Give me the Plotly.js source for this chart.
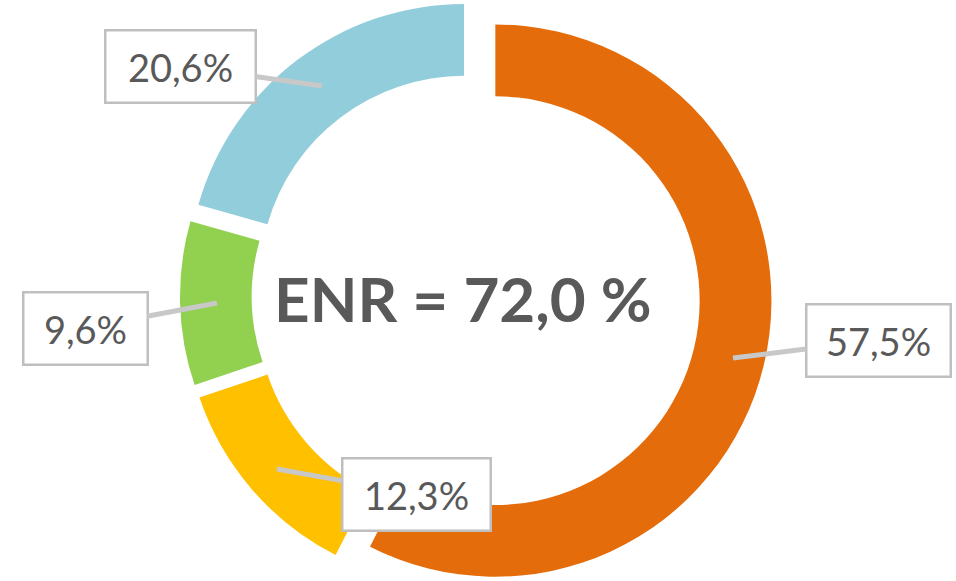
<!DOCTYPE html>
<html>
<head>
<meta charset="utf-8">
<script src="https://cdn.plot.ly/plotly-3.0.1.min.js"></script>
<style>
html,body{margin:0;padding:0;overflow:hidden;background:#fff;}
#chart{width:956px;height:592px;}
</style>
</head>
<body>
<div id="chart"></div>
<script>
// Data
const categories = ['Source 1', 'Source 2', 'Source 3', 'Source 4'];
const shares = [57.5, 12.3, 9.6, 20.6];
const sliceColors = ['#E46C0A', '#FFC000', '#92D050', '#92CDDC'];
const centerLabel = 'ENR = 72,0 %';

const W = 956, H = 592;
function fmt(v){ return v.toFixed(1).replace('.', ',') + '%'; }

// label callout placement (tip px, box offset px)
const tips = [[733, 358], [277, 469], [217, 303], [322, 86]];
const offs = [[145, -18], [139, 25], [-132, 25], [-142, -20]];
const boxW = [138, 142, 118, 144];

const trace = {
  type: 'pie',
  labels: categories,
  values: shares,
  sort: false,
  direction: 'clockwise',
  rotation: 0,
  hole: 0.74,
  pull: 0.072,
  textinfo: 'none',
  hoverinfo: 'label+percent',
  marker: {colors: sliceColors, line: {width: 0}},
  domain: {x: [0, 952 / W], y: [0, 1]},
  showlegend: false
};

const annotations = shares.map((v, i) => ({
  xref: 'paper', yref: 'paper',
  x: tips[i][0] / W, y: 1 - tips[i][1] / H,
  ax: offs[i][0], ay: offs[i][1],
  text: fmt(v),
  showarrow: true,
  arrowhead: 0,
  arrowwidth: 5,
  arrowcolor: '#C8C8C8',
  bordercolor: '#BFBFBF',
  borderwidth: 2.5,
  borderpad: 2,
  bgcolor: '#FFFFFF',
  width: boxW[i],
  height: 66,
  font: {family: 'Lato, "Open Sans", sans-serif', size: 38, color: '#595959'}
}));

annotations.push({
  xref: 'paper', yref: 'paper',
  x: 463 / W, y: 1 - 298 / H,
  text: '<b>' + centerLabel + '</b>',
  showarrow: false,
  font: {family: 'Lato, "Open Sans", sans-serif', size: 62, color: '#595959'}
});

const layout = {
  width: W, height: H,
  margin: {l: 0, r: 0, t: 0, b: 0},
  paper_bgcolor: '#FFFFFF',
  annotations: annotations
};

Plotly.newPlot('chart', [trace], layout, {displayModeBar: false, staticPlot: true});
</script>
</body>
</html>
